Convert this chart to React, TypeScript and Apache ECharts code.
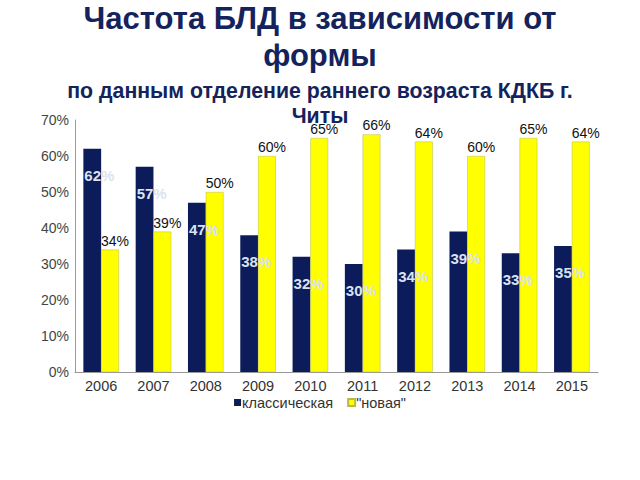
import React, { useEffect, useRef } from "react";
import * as echarts from "echarts";

const years = ["2006", "2007", "2008", "2009", "2010", "2011", "2012", "2013", "2014", "2015"];
const classic = [62, 57, 47, 38, 32, 30, 34, 39, 33, 35];
const newForm = [34, 39, 50, 60, 65, 66, 64, 60, 65, 64];
const yTicks = [0, 10, 20, 30, 40, 50, 60, 70];

export default function App() {
  const ref = useRef<HTMLDivElement>(null);
  useEffect(() => {
    if (!ref.current) return;
    const chart = echarts.init(ref.current, undefined, { renderer: "svg" });
    chart.setOption({
      animation: false,
      backgroundColor: "#ffffff",
      textStyle: { fontFamily: "Liberation Sans" },
      title: [
        {
          text: "Частота БЛД в зависимости от\nформы",
          left: "center",
          top: 0,
          padding: 0,
          textStyle: {
            fontFamily: "Liberation Sans",
            fontSize: 31,
            fontWeight: "bold",
            color: "#14235c",
            lineHeight: 37,
            align: "center",
          },
        },
        {
          text: "по данным отделение раннего возраста КДКБ г.\nЧиты",
          left: "center",
          top: 78,
          padding: 0,
          textStyle: {
            fontFamily: "Liberation Sans",
            fontSize: 21.3,
            fontWeight: "bold",
            color: "#14235c",
            lineHeight: 25,
            align: "center",
          },
        },
      ],
      legend: {
        bottom: 65,
        left: "center",
        itemWidth: 7,
        itemHeight: 7,
        itemGap: 14,
        icon: "rect",
        textStyle: { fontSize: 14.5, color: "#333", fontFamily: "Liberation Sans", padding: [0, 0, 0, -4] },
        data: ["классическая", "\"новая\""],
      },
      grid: { left: 75, right: 42, top: 120, bottom: 108 },
      xAxis: {
        type: "category",
        data: years,
        axisLine: { lineStyle: { color: "#999" } },
        axisTick: { show: false },
        axisLabel: { fontSize: 14.5, color: "#333", margin: 6 },
      },
      yAxis: {
        type: "value",
        min: 0,
        max: 70,
        interval: 10,
        splitLine: { show: false },
        axisLine: { show: true, lineStyle: { color: "#999" } },
        axisTick: { show: false },
        axisLabel: {
          fontSize: 14,
          color: "#444",
          margin: 6,
          formatter: (v: number) => (yTicks.includes(v) ? v + "%" : ""),
        },
      },
      series: [
        {
          name: "классическая",
          type: "bar",
          data: classic,
          barWidth: "34%",
          barGap: "0%",
          itemStyle: { color: "#0c1c5a" },
          label: {
            show: true,
            position: [1, 19],
            formatter: "{c}%",
            fontSize: 15,
            fontWeight: "bold",
            color: "#dbe3f0",
          },
        },
        {
          name: "\"новая\"",
          type: "bar",
          data: newForm,
          barWidth: "34%",
          itemStyle: { color: "#ffff00", borderColor: "#b8b850", borderWidth: 0.5 },
          label: {
            show: true,
            position: "top",
            distance: 2,
            offset: [5, 0],
            formatter: "{c}%",
            fontSize: 14,
            color: "#111",
          },
        },
      ],
    });
    return () => chart.dispose();
  }, []);
  return (
    <div
      ref={ref}
      style={{ position: "fixed", left: 0, top: 0, width: 640, height: 480 }}
    />
  );
}
